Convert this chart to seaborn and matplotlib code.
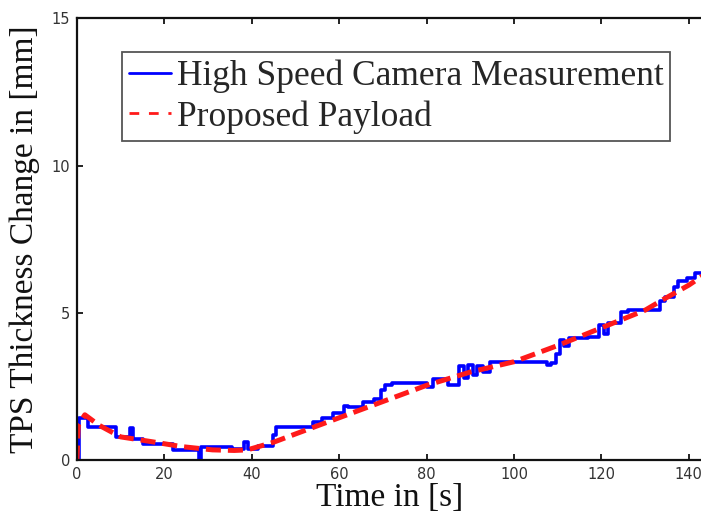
import numpy as np
import pandas as pd
import matplotlib
matplotlib.use("Agg")
import matplotlib.pyplot as plt
import seaborn as sns

# high speed camera measurement (step signal)
t_cam = [0, 0.5, 2.6, 9.0, 12.2, 12.9, 15.0, 22.0, 28.0, 28.4, 35.5, 38.3, 39.2,
         41.5, 44.8, 45.5, 54.0, 56.0, 58.5, 61.0, 62.0, 65.5, 68.0, 69.5, 70.5,
         72.0, 80.0, 81.5, 85.0, 87.5, 88.5, 89.5, 90.5, 91.5, 93.0, 94.5, 107.5,
         108.5, 109.5, 110.5, 111.5, 112.5, 117.0, 119.5, 120.5, 121.5, 124.5,
         126.0, 133.5, 134.5, 136.5, 137.5, 139.5, 141.5, 143.0]
h_cam = [0, 1.45, 1.15, 0.78, 1.1, 0.72, 0.55, 0.37, 0.0, 0.45, 0.38, 0.62, 0.4,
         0.5, 0.85, 1.15, 1.3, 1.45, 1.6, 1.85, 1.8, 2.0, 2.1, 2.4, 2.55,
         2.62, 2.5, 2.75, 2.55, 3.2, 2.8, 3.25, 2.9, 3.2, 3.0, 3.35, 3.25,
         3.3, 3.6, 4.1, 3.9, 4.15, 4.2, 4.6, 4.3, 4.65, 5.05,
         5.1, 5.4, 5.55, 5.9, 6.1, 6.2, 6.35, 6.35]

# proposed payload
t_pay = [0, 0.3, 1.8, 5, 10, 17, 24, 31, 36, 39, 45, 50, 60, 70, 80, 90, 100,
         110, 120, 130, 134, 140, 143]
h_pay = [0, 1.2, 1.55, 1.2, 0.8, 0.64, 0.47, 0.36, 0.34, 0.36, 0.62, 0.9, 1.45,
         2.0, 2.55, 3.0, 3.35, 3.9, 4.5, 5.1, 5.45, 5.95, 6.25]

sns.set_theme(style="ticks")
plt.rcParams["font.family"] = ["Liberation Serif", "DejaVu Serif"]

fig = plt.figure(figsize=(7.01, 5.25), dpi=100)
ax = fig.add_axes([0.1098, 0.1229, 0.8916, 0.8422])

df_cam = pd.DataFrame({"t": t_cam, "h": h_cam})
df_pay = pd.DataFrame({"t": t_pay, "h": h_pay})

sns.lineplot(data=df_cam, x="t", y="h", ax=ax, color="#0000ff", linewidth=2.6,
             drawstyle="steps-post", estimator=None,
             label="High Speed Camera Measurement")
sns.lineplot(data=df_pay, x="t", y="h", ax=ax, color="#ff1a1a", linewidth=3.6,
             dashes=False, estimator=None, label="Proposed Payload")
ax.lines[1].set_dashes([3.0, 1.4])

ax.set_xlim(0, 143)
ax.set_ylim(0, 15)
ax.set_xticks(range(0, 141, 20))
ax.set_yticks([0, 5, 10, 15])

for s in ["left", "bottom", "top"]:
    ax.spines[s].set_visible(True)
    ax.spines[s].set_linewidth(1.6)
    ax.spines[s].set_color("#111111")
ax.spines["right"].set_visible(False)

ax.tick_params(axis="both", direction="in", length=4, width=1.3, color="#111111",
               labelsize=10.5, labelcolor="#333333", pad=5)
ax.tick_params(axis="x", top=True)
for lab in ax.get_xticklabels() + ax.get_yticklabels():
    lab.set_family("DejaVu Sans")

ax.set_xlabel("Time in [s]", fontsize=24, color="#111111", labelpad=0)
ax.set_ylabel("TPS Thickness Change in [mm]", fontsize=24, color="#111111",
              labelpad=8)

leg = ax.legend(loc="upper left", bbox_to_anchor=(0.0715, 0.923),
                borderaxespad=0, fontsize=25.5, frameon=True, fancybox=False,
                framealpha=1, edgecolor="#555555", handlelength=1.2,
                handletextpad=0.15, borderpad=0.2, labelspacing=0.2)
leg.get_frame().set_linewidth(1.3)
for h in leg.get_lines():
    h.set_linewidth(2)
leg.get_lines()[1].set_dashes([3.5, 3.5])

fig.savefig("out.png", dpi=100)
